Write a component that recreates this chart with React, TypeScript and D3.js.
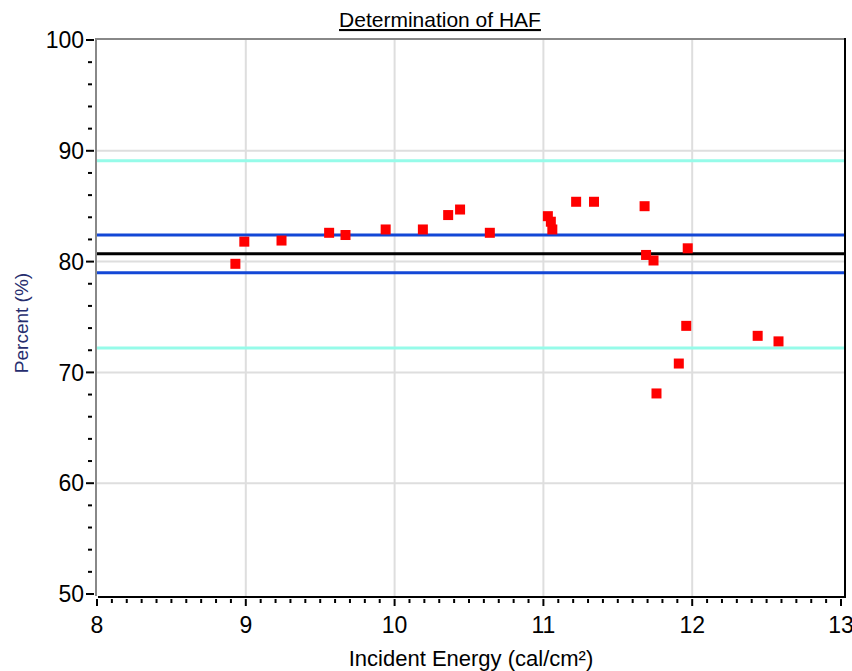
import React, { useEffect, useRef } from "react";
import * as d3 from "d3";

// incident energy (cal/cm²) and percent readings
const energy = [
  8.93, 8.99, 9.24, 9.56, 9.67, 9.94, 10.19, 10.36, 10.44, 10.64, 11.03, 11.05,
  11.06, 11.22, 11.34, 11.68, 11.69, 11.74, 11.97, 11.96, 11.91, 11.76, 12.44, 12.58,
];
const percent = [
  79.8, 81.8, 81.9, 82.6, 82.4, 82.9, 82.9, 84.2, 84.7, 82.6, 84.1, 83.6,
  82.9, 85.4, 85.4, 85.0, 80.6, 80.1, 81.2, 74.2, 70.8, 68.1, 73.3, 72.8,
];

// reference levels: mean, +/- 1 sd, +/- 3 sd (approx)
const refLevels = [89.1, 82.4, 80.7, 79.0, 72.2];
const refColors = ["#96fbe9", "#1347d6", "#000000", "#1347d6", "#96fbe9"];

const xTicks = [8, 9, 10, 11, 12, 13];
const yTicks = [50, 60, 70, 80, 90, 100];

const FONT = "'Liberation Sans Narrow', 'Arial Narrow', 'Liberation Sans', Arial, sans-serif";

const App = () => {
  const ref = useRef<SVGSVGElement>(null);

  useEffect(() => {
    const svg = d3.select(ref.current);
    svg.selectAll("*").remove();

    const x = d3.scaleLinear().domain([8, 13]).range([97, 841]);
    const y = d3.scaleLinear().domain([50, 100]).range([594, 40]);

    // grid
    const grid = svg.append("g");
    grid
      .selectAll("line.v")
      .data(xTicks.slice(1, -1))
      .enter()
      .append("line")
      .attr("x1", d => x(d))
      .attr("x2", d => x(d))
      .attr("y1", 39)
      .attr("y2", 597)
      .attr("stroke", "#dedede")
      .attr("stroke-width", 2);
    grid
      .selectAll("line.h")
      .data(yTicks.slice(1, -1))
      .enter()
      .append("line")
      .attr("x1", 96)
      .attr("x2", 845)
      .attr("y1", d => y(d))
      .attr("y2", d => y(d))
      .attr("stroke", "#dedede")
      .attr("stroke-width", 2);

    // reference lines
    svg
      .append("g")
      .selectAll("line")
      .data(refLevels)
      .enter()
      .append("line")
      .attr("x1", 96)
      .attr("x2", 845)
      .attr("y1", d => y(d))
      .attr("y2", d => y(d))
      .attr("stroke", (d, i) => refColors[i])
      .attr("stroke-width", 3);

    // frame
    svg.append("line").attr("x1", 96).attr("x2", 845).attr("y1", 39).attr("y2", 39)
      .attr("stroke", "#888").attr("stroke-width", 2);
    svg.append("line").attr("x1", 96).attr("x2", 96).attr("y1", 38).attr("y2", 596)
      .attr("stroke", "#888").attr("stroke-width", 2);
    svg.append("line").attr("x1", 845).attr("x2", 845).attr("y1", 38).attr("y2", 598)
      .attr("stroke", "#000").attr("stroke-width", 2);
    svg.append("line").attr("x1", 98).attr("x2", 846).attr("y1", 597).attr("y2", 597)
      .attr("stroke", "#000").attr("stroke-width", 2);

    // y axis ticks
    const yMinor = d3.range(52, 100, 2).filter(v => v % 10 !== 0);
    svg.append("g").selectAll("line").data(yMinor).enter().append("line")
      .attr("x1", 88).attr("x2", 92)
      .attr("y1", d => y(d)).attr("y2", d => y(d))
      .attr("stroke", "#000").attr("stroke-width", 2);
    svg.append("g").selectAll("line").data(yTicks).enter().append("line")
      .attr("x1", 86).attr("x2", 94)
      .attr("y1", d => y(d)).attr("y2", d => y(d))
      .attr("stroke", "#000").attr("stroke-width", 2);
    svg.append("g").selectAll("text").data(yTicks).enter().append("text")
      .attr("x", 84).attr("y", d => y(d)).attr("dy", "0.36em")
      .attr("text-anchor", "end")
      .attr("font-family", FONT).attr("font-size", 23)
      .text(d => d);

    // x axis ticks
    const xMinor = d3.range(81, 130, 1).map(v => v / 10).filter(v => Math.abs(v - Math.round(v)) > 0.01);
    svg.append("g").selectAll("line").data(xMinor).enter().append("line")
      .attr("x1", d => x(d)).attr("x2", d => x(d))
      .attr("y1", 599).attr("y2", 603)
      .attr("stroke", "#000").attr("stroke-width", 2);
    svg.append("g").selectAll("line").data(xTicks).enter().append("line")
      .attr("x1", d => x(d)).attr("x2", d => x(d))
      .attr("y1", 599).attr("y2", 606)
      .attr("stroke", "#000").attr("stroke-width", 2);
    svg.append("g").selectAll("text").data(xTicks).enter().append("text")
      .attr("x", d => x(d)).attr("y", 633)
      .attr("text-anchor", "middle")
      .attr("font-family", FONT).attr("font-size", 23)
      .text(d => d);

    // points
    svg.append("g").selectAll("rect").data(energy).enter().append("rect")
      .attr("x", (d, i) => x(d) - 5)
      .attr("y", (d, i) => y(percent[i]) - 5)
      .attr("width", 10).attr("height", 10)
      .attr("fill", "#ff0000");

    // titles
    svg.append("text")
      .attr("x", 440).attr("y", 27)
      .attr("text-anchor", "middle")
      .attr("font-family", FONT).attr("font-size", 21)
      .attr("text-decoration", "underline")
      .text("Determination of HAF");
    svg.append("text")
      .attr("x", 471).attr("y", 666)
      .attr("text-anchor", "middle")
      .attr("font-family", FONT).attr("font-size", 22)
      .text("Incident Energy (cal/cm²)");
    svg.append("text")
      .attr("transform", "translate(28,323) rotate(-90)")
      .attr("text-anchor", "middle")
      .attr("font-family", "'Liberation Sans', Arial, sans-serif").attr("font-size", 19)
      .attr("fill", "#262d6e")
      .text("Percent (%)");
  }, []);

  return (
    <svg
      ref={ref}
      width={852}
      height={671}
      style={{ position: "absolute", left: 0, top: 0, background: "#fff" }}
    />
  );
};

export default App;
